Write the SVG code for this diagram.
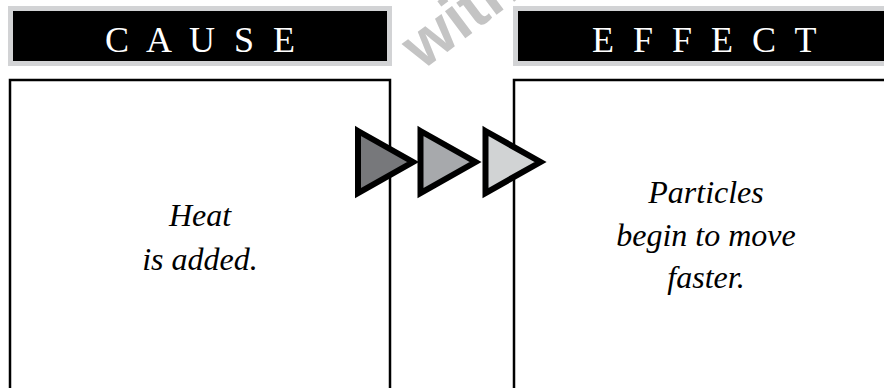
<svg xmlns="http://www.w3.org/2000/svg" width="884" height="388" viewBox="0 0 884 388">
  <style>
    .hdr { fill: #000000; stroke: #d2d3d5; stroke-width: 5; }
    .hdr-text { fill: #ffffff; font-family: "Liberation Serif", "DejaVu Serif", serif; font-size: 36px; letter-spacing: 5px; }
    .box { fill: #ffffff; stroke: #000000; stroke-width: 2.5; }
    .body { fill: #000000; font-family: "Liberation Serif", "DejaVu Serif", serif; font-style: italic; font-size: 32px; text-anchor: middle; }
    .arrow { stroke: #000000; stroke-width: 6; stroke-linejoin: miter; stroke-miterlimit: 10; }
    .wm { fill: #c4c4c4; font-family: "Liberation Sans", "DejaVu Sans", sans-serif; font-size: 64px; font-weight: bold; }
  </style>
  <defs>
    <path id="tri" d="M358,131 L413,162 L358,193 Z"/>
  </defs>
  <rect width="884" height="388" fill="#ffffff"/>

  <g id="header-cause">
    <rect class="hdr" x="10.5" y="8.5" width="379" height="55"/>
    <text class="hdr-text" x="105" y="52">C A U S E</text>
  </g>
  <g id="header-effect">
    <rect class="hdr" x="515.5" y="8.5" width="400" height="55"/>
    <text class="hdr-text" x="592" y="52">E F F E C T</text>
  </g>

  <g id="node-cause">
    <rect class="box" x="10" y="80" width="380" height="340"/>
    <text class="body" x="200" y="226">Heat</text>
    <text class="body" x="200" y="270">is added.</text>
  </g>
  <g id="node-effect">
    <rect class="box" x="514" y="80" width="420" height="340"/>
    <text class="body" x="706" y="203">Particles</text>
    <text class="body" x="706" y="245.5">begin to move</text>
    <text class="body" x="706" y="288">faster.</text>
  </g>

  <g id="connectors">
    <use href="#tri" class="arrow" fill="#77787b"/>
    <use href="#tri" class="arrow" fill="#a7a9ac" transform="translate(62.5,0)"/>
    <use href="#tri" class="arrow" fill="#d1d3d4" transform="translate(127.5,0)"/>
  </g>

  <text class="wm" transform="translate(422,71) rotate(-37)">with</text>
</svg>
